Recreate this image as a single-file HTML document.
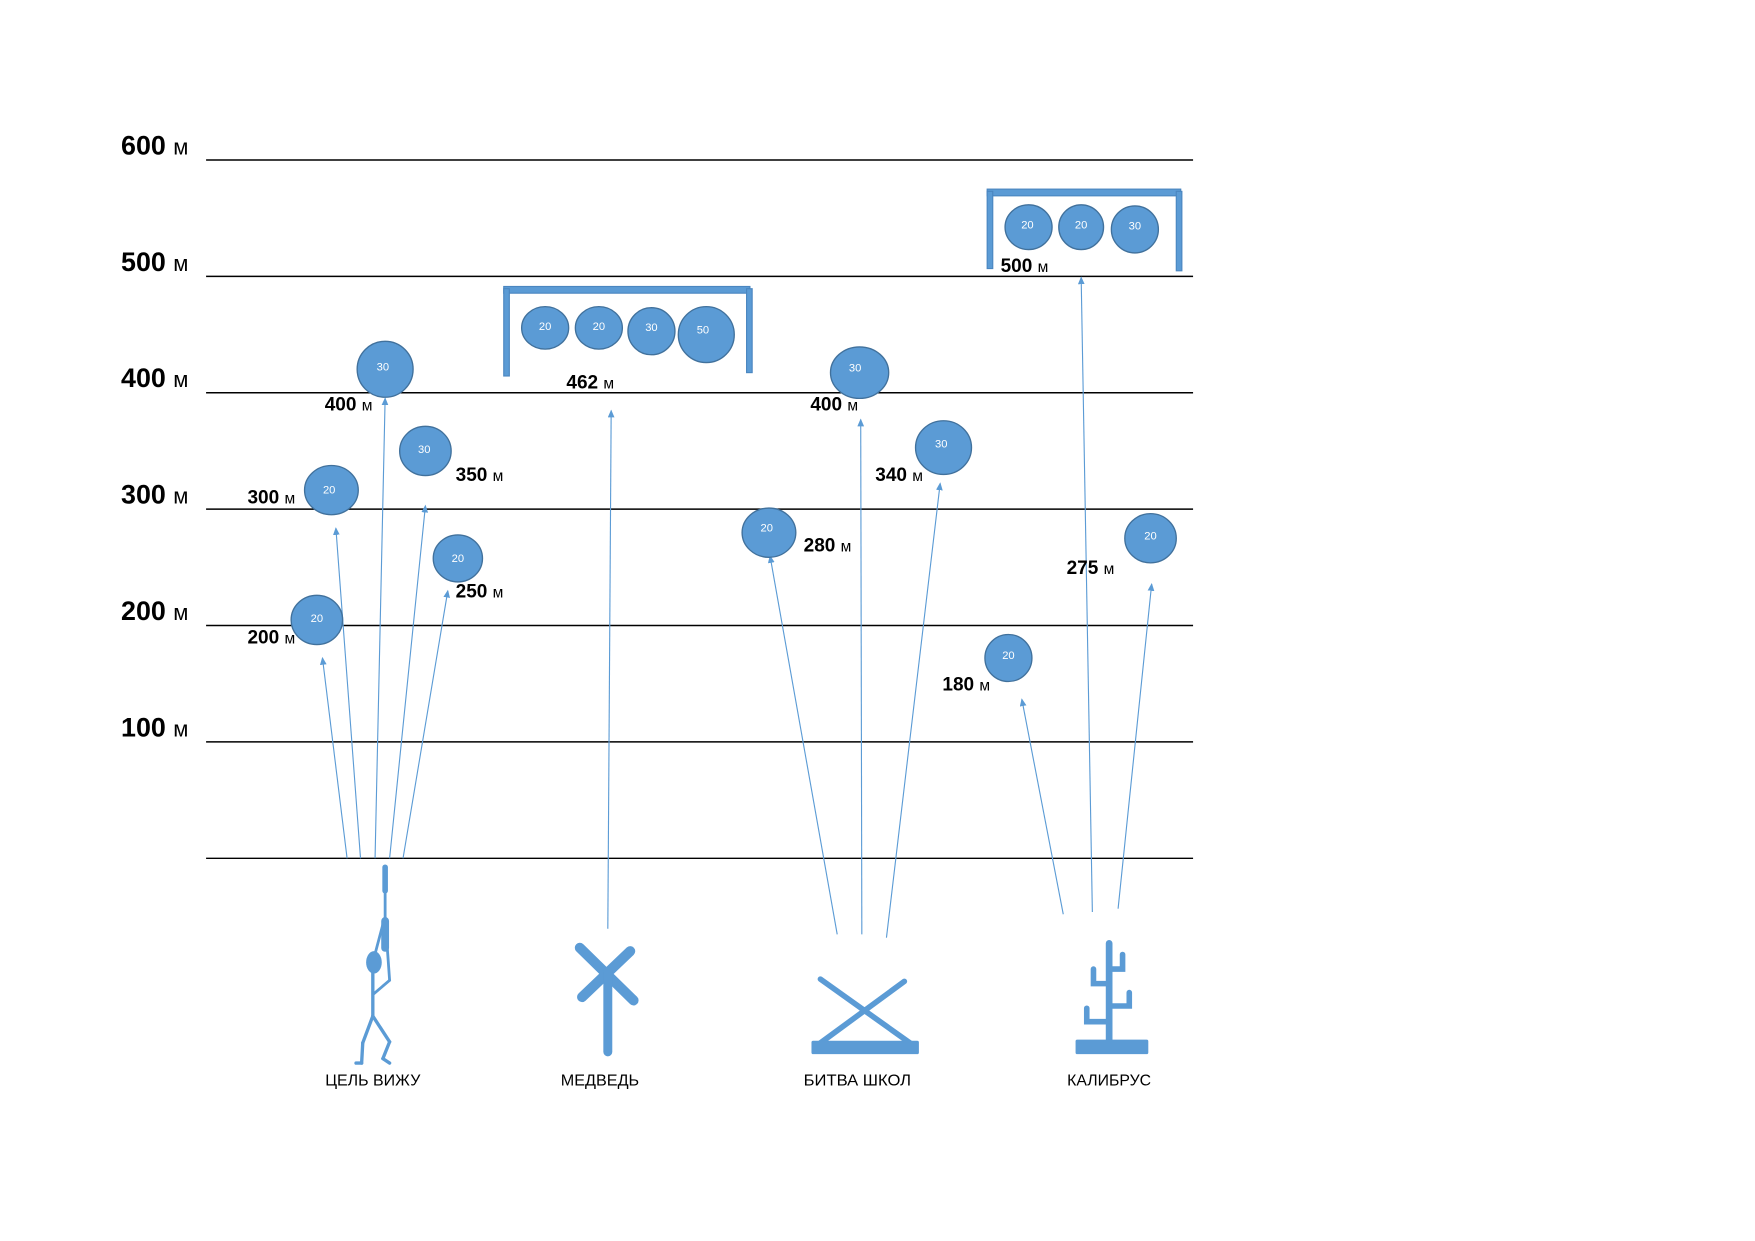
<!DOCTYPE html>
<html><head><meta charset="utf-8"><style>
html,body{margin:0;padding:0;background:#fff;}
svg{display:block;}
.ax{font-family:"Liberation Sans",sans-serif;font-weight:bold;font-size:24px;fill:#000;}
.lb{font-family:"Liberation Sans",sans-serif;font-weight:bold;font-size:17px;fill:#000;}
.m{font-weight:normal;font-size:0.82em;}
.ct{font-family:"Liberation Sans",sans-serif;font-size:10px;fill:#fff;text-anchor:middle;}
.nm{font-family:"Liberation Sans",sans-serif;font-size:14px;fill:#000;text-anchor:middle;}
</style></head><body>
<svg width="1755" height="1241" viewBox="0 0 1568 1109" xmlns="http://www.w3.org/2000/svg">
<defs>
<marker id="a" markerWidth="8" markerHeight="8" refX="6" refY="3" orient="auto" markerUnits="userSpaceOnUse">
<path d="M0,0 L7,3 L0,6 z" fill="#5b9bd5"/></marker>
</defs>
<g stroke="#000" stroke-width="1.3">
<line x1="184" y1="143" x2="1066" y2="143"/>
<line x1="184" y1="247" x2="1066" y2="247"/>
<line x1="184" y1="351" x2="1066" y2="351"/>
<line x1="184" y1="455" x2="1066" y2="455"/>
<line x1="184" y1="559" x2="1066" y2="559"/>
<line x1="184" y1="663" x2="1066" y2="663"/>
<line x1="184" y1="767" x2="1066" y2="767"/>
</g>
<text class="ax" x="108" y="138">600 <tspan class="m">м</tspan></text>
<text class="ax" x="108" y="242">500 <tspan class="m">м</tspan></text>
<text class="ax" x="108" y="346">400 <tspan class="m">м</tspan></text>
<text class="ax" x="108" y="450">300 <tspan class="m">м</tspan></text>
<text class="ax" x="108" y="554">200 <tspan class="m">м</tspan></text>
<text class="ax" x="108" y="658">100 <tspan class="m">м</tspan></text>

<g stroke="#5b9bd5" stroke-width="1" fill="none" marker-end="url(#a)">
<line x1="310" y1="767" x2="288" y2="588"/>
<line x1="322" y1="767" x2="300" y2="472"/>
<line x1="335" y1="767" x2="344" y2="356"/>
<line x1="348" y1="767" x2="380" y2="452"/>
<line x1="360" y1="767" x2="400" y2="528"/>
<line x1="543" y1="830" x2="546" y2="367"/>
<line x1="748" y1="835" x2="688" y2="497"/>
<line x1="770" y1="835" x2="769" y2="375"/>
<line x1="792" y1="838" x2="840" y2="432"/>
<line x1="950" y1="817" x2="913" y2="625"/>
<line x1="976" y1="815" x2="966" y2="248"/>
<line x1="999" y1="812" x2="1029" y2="522"/>
</g>

<g fill="#5b9bd5" stroke="#4a86c0" stroke-width="1">
<rect x="450" y="256" width="220" height="6"/>
<rect x="450" y="258" width="5" height="78"/>
<rect x="667" y="258" width="5" height="75"/>
<rect x="882" y="169" width="173" height="6"/>
<rect x="882" y="171" width="5" height="69"/>
<rect x="1051" y="171" width="5" height="71"/>
</g>

<g fill="#5b9bd5" stroke="#41719c" stroke-width="1.2">
<ellipse cx="283" cy="554" rx="23" ry="22"/>
<ellipse cx="296" cy="438" rx="24" ry="22"/>
<ellipse cx="344" cy="330" rx="25" ry="25"/>
<ellipse cx="380" cy="403" rx="23" ry="22"/>
<ellipse cx="409" cy="499" rx="22" ry="21"/>
<ellipse cx="487" cy="293" rx="21" ry="19"/>
<ellipse cx="535" cy="293" rx="21" ry="19"/>
<ellipse cx="582" cy="296" rx="21" ry="21"/>
<ellipse cx="631" cy="299" rx="25" ry="25"/>
<ellipse cx="768" cy="333" rx="26" ry="23"/>
<ellipse cx="843" cy="400" rx="25" ry="24"/>
<ellipse cx="687" cy="476" rx="24" ry="22"/>
<ellipse cx="919" cy="203" rx="21" ry="20"/>
<ellipse cx="966" cy="203" rx="20" ry="20"/>
<ellipse cx="1014" cy="205" rx="21" ry="21"/>
<ellipse cx="1028" cy="481" rx="23" ry="22"/>
<ellipse cx="901" cy="588" rx="21" ry="21"/>
</g>
<g class="ct">
<text x="283" y="556">20</text>
<text x="294" y="441">20</text>
<text x="342" y="331">30</text>
<text x="379" y="405">30</text>
<text x="409" y="502">20</text>
<text x="487" y="295">20</text>
<text x="535" y="295">20</text>
<text x="582" y="296">30</text>
<text x="628" y="298">50</text>
<text x="764" y="332">30</text>
<text x="841" y="400">30</text>
<text x="685" y="475">20</text>
<text x="918" y="204">20</text>
<text x="966" y="204">20</text>
<text x="1014" y="205">30</text>
<text x="1028" y="482">20</text>
<text x="901" y="589">20</text>
</g>

<g class="lb">
<text x="221" y="575">200 <tspan class="m">м</tspan></text>
<text x="221" y="450">300 <tspan class="m">м</tspan></text>
<text x="290" y="367">400 <tspan class="m">м</tspan></text>
<text x="407" y="430">350 <tspan class="m">м</tspan></text>
<text x="407" y="534">250 <tspan class="m">м</tspan></text>
<text x="506" y="347">462 <tspan class="m">м</tspan></text>
<text x="724" y="367">400 <tspan class="m">м</tspan></text>
<text x="782" y="430">340 <tspan class="m">м</tspan></text>
<text x="718" y="493">280 <tspan class="m">м</tspan></text>
<text x="894" y="243">500 <tspan class="m">м</tspan></text>
<text x="953" y="513">275 <tspan class="m">м</tspan></text>
<text x="842" y="617">180 <tspan class="m">м</tspan></text>
</g>

<g stroke="#5b9bd5" fill="none" stroke-linecap="round">
<line x1="344" y1="775" x2="344" y2="796" stroke-width="5"/>
<line x1="344" y1="796" x2="344" y2="822" stroke-width="2.5"/>
<line x1="344" y1="823" x2="344" y2="847" stroke-width="7"/>
<line x1="342" y1="826" x2="333" y2="860" stroke-width="2.5"/>
<line x1="346" y1="848" x2="348" y2="876" stroke-width="2.5"/>
<line x1="348" y1="876" x2="334" y2="888" stroke-width="2.5"/>
<line x1="333" y1="866" x2="333" y2="908" stroke-width="3"/>
<line x1="333" y1="908" x2="324" y2="932" stroke-width="3"/>
<line x1="324" y1="932" x2="323" y2="950" stroke-width="3"/>
<line x1="323" y1="950" x2="318" y2="950" stroke-width="3"/>
<line x1="333" y1="908" x2="348" y2="931" stroke-width="3"/>
<line x1="348" y1="931" x2="342" y2="946" stroke-width="3"/>
<line x1="342" y1="946" x2="348" y2="950" stroke-width="3"/>
<line x1="518" y1="847" x2="566" y2="894" stroke-width="9"/>
<line x1="563" y1="850" x2="520" y2="891" stroke-width="9"/>
<line x1="543" y1="868" x2="543" y2="940" stroke-width="8"/>
<line x1="733" y1="875" x2="813" y2="932" stroke-width="5"/>
<line x1="808" y1="877" x2="733" y2="932" stroke-width="5"/>
<line x1="991" y1="843" x2="991" y2="930" stroke-width="6"/>
<polyline points="991,866 1003,866 1003,853" stroke-width="5"/>
<polyline points="991,879 977,879 977,866" stroke-width="5"/>
<polyline points="991,899 1009,899 1009,887" stroke-width="5"/>
<polyline points="991,913 971,913 971,901" stroke-width="5"/>
</g>
<ellipse cx="334" cy="860" rx="7" ry="10" fill="#5b9bd5"/>
<rect x="725" y="930" width="96" height="12" rx="1.5" fill="#5b9bd5"/>
<rect x="961" y="929" width="65" height="13" rx="1.5" fill="#5b9bd5"/>

<g class="nm">
<text x="333" y="970" textLength="85" lengthAdjust="spacingAndGlyphs">ЦЕЛЬ ВИЖУ</text>
<text x="536" y="970" textLength="70" lengthAdjust="spacingAndGlyphs">МЕДВЕДЬ</text>
<text x="766" y="970" textLength="96" lengthAdjust="spacingAndGlyphs">БИТВА ШКОЛ</text>
<text x="991" y="970" textLength="75" lengthAdjust="spacingAndGlyphs">КАЛИБРУС</text>
</g>
</svg>
</body></html>
